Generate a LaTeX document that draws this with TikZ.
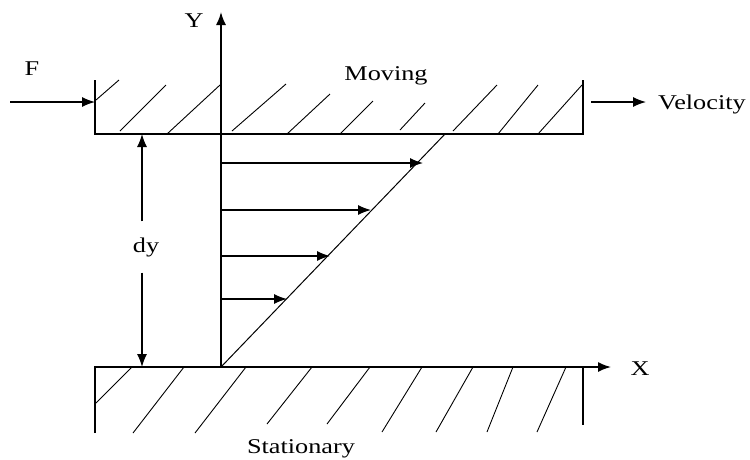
\documentclass[tikz,border=0pt]{standalone}
\usepackage{fontspec}
\setmainfont{Liberation Serif}[FakeStretch=1.25]
\usetikzlibrary{arrows.meta}
\begin{document}
\begin{tikzpicture}[x=1pt,y=-1pt,>={Latex[length=13pt,width=10pt]},
  lbl/.style={font=\fontsize{21}{25}\selectfont,inner sep=0pt},
  plate/.style={line width=1.4pt},
  hatch/.style={line width=0.9pt}]
  \useasboundingbox (0,0) rectangle (750,459);
  \coordinate (O) at (221,367);
  \coordinate (P) at (445,134);
  \coordinate (Ytip) at (221,12);
  \coordinate (Xtip) at (611,367);
  \coordinate (Fs) at (10,102);
  \coordinate (Fe) at (95,102);
  \coordinate (Vs) at (591,102);
  \coordinate (Ve) at (646,102);
  \coordinate (dyTop) at (142,134);
  \coordinate (dyBot) at (142,367);
  \node[lbl,anchor=base] (F) at (32,75) {F};
  \node[lbl,anchor=base] (moving) at (386,80) {Moving};
  \node[lbl,anchor=base west] (velocity) at (658,109) {Velocity};
  \node[lbl,anchor=base] (Ylab) at (194,27) {Y};
  \node[lbl,anchor=base] (Xlab) at (640,375) {X};
  \node[lbl,minimum height=51pt] (dy) at (146,247) {dy};
  \node[lbl,anchor=base] (stationary) at (301,453) {Stationary};
  \draw[plate] (95,80) -- (95,134) -- (583,134) -- (583,80);
  \draw[plate] (95,433) -- (95,367) -- (O);
  \draw[plate] (583,367) -- (583,425);
  \foreach \a/\b/\c/\d in {96/100/119/80, 120/131/166/85, 167/134/220/85,
    232/131/286/84, 287/134/330/94, 340/134/373/101, 400/130/425/103,
    453/131/497/85, 498/134/538/85, 538/134/582/85}
    \draw[hatch] (\a,\b) -- (\c,\d);
  \foreach \a/\b/\c/\d in {132/367/96/403, 184/367/133/433, 246/367/195/433,
    312/367/267/424, 370/367/327/424, 422/367/382/432, 473/367/436/432,
    513/367/487/432, 566/367/537/432}
    \draw[hatch] (\a,\b) -- (\c,\d);
  \draw[line width=1.6pt,->] (O) -- (Xtip);
  \draw[line width=1.6pt,->] (O) -- (Ytip);
  \draw[line width=1pt] (O) -- (P);
  \foreach \y/\x in {163/423, 210/371, 256/330, 299/287}
    \draw[line width=1.3pt,->] (221,\y) -- (\x,\y);
  \draw[line width=1.3pt,->] (Fs) -- (Fe);
  \draw[line width=1.3pt,->] (Vs) -- (Ve);
  \draw[line width=1.3pt,->] (dy.north -| dyTop) -- (dyTop);
  \draw[line width=1.3pt,->] (dy.south -| dyBot) -- (dyBot);
\end{tikzpicture}
\end{document}
